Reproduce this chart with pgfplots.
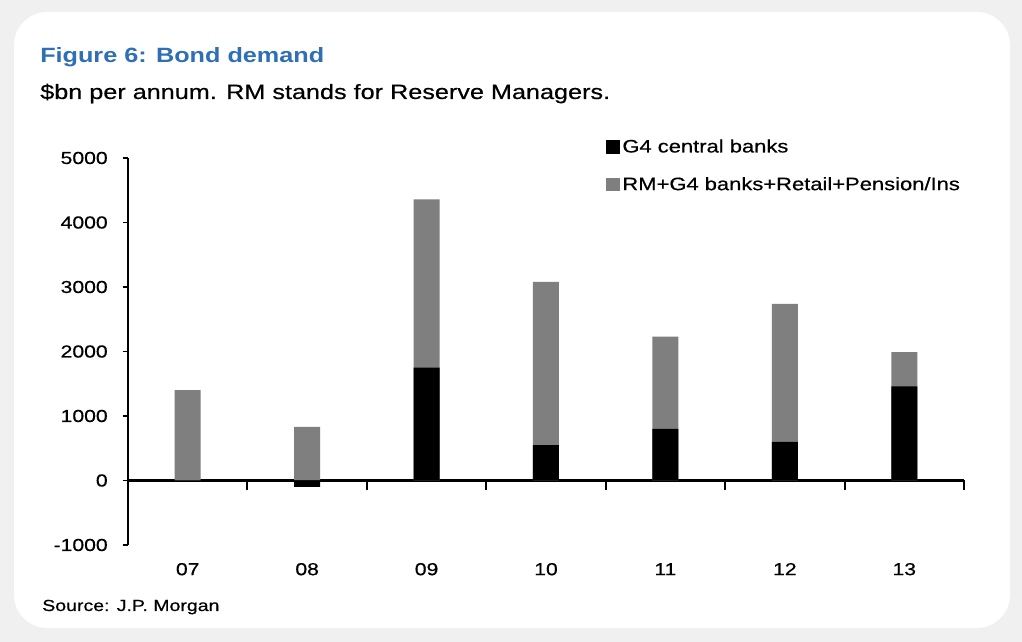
\documentclass[border=0pt]{standalone}
\usepackage{fontspec}
\setmainfont[FakeStretch=1.22, UprightFeatures={FakeBold=0.5}]{Liberation Sans}
\usepackage{pgfplots}
\pgfplotsset{compat=1.18}
\definecolor{barGray}{HTML}{7F7F7F}
\definecolor{titleBlue}{HTML}{2E6FB5}
\begin{document}
\begin{tikzpicture}
\useasboundingbox (0,0) rectangle (766.5pt,481.5pt);
\fill[gray!12] (0,0) rectangle (766.5pt,481.5pt);
\begin{scope}[x=0.75pt,y=-0.75pt,yshift=481.5pt]
 \fill[white, rounded corners=25pt] (14,12) rectangle (1010,628);
 \node[anchor=base west, inner sep=0, font=\fontsize{15.5}{18}\selectfont\bfseries, text=titleBlue] at (40,63) {Figure 6: Bond demand};
 \node[anchor=base west, inner sep=0, font=\fontsize{15.5}{18}\selectfont] at (40,99) {\$bn per annum. RM stands for Reserve Managers.};
 \node[anchor=base west, inner sep=0, font=\fontsize{12}{14}\selectfont] at (42,611) {Source: J.P. Morgan};
\end{scope}
\begin{axis}[
 at={(96pt,72.75pt)}, anchor=south west,
 scale only axis, width=627pt, height=290.25pt,
 xmin=-0.5, xmax=6.5, ymin=-1000, ymax=5000,
 axis x line*=middle, axis y line*=left,
 line width=1.8pt,
 ybar,
 xtick={0,...,6}, xticklabels={07,08,09,10,11,12,13},
 minor xtick={0.5,1.5,...,6.5},
 ytick={-1000,0,...,5000},
 tick align=outside,
 major tick length=4pt, minor tick length=7.5pt,
 tick style={line width=1.4pt, black},
 every major x tick/.append style={draw=none},
 /pgf/number format/assume math mode=true,
 /pgf/number format/1000 sep={},
 yticklabel style={font=\fontsize{13}{15}\selectfont, xshift=-7pt},
 xticklabel style={font=\fontsize{13}{15}\selectfont, anchor=base, yshift=-67pt},
 reverse legend,
 legend style={at={(0.57,1.058)}, anchor=north west, draw=none, fill=none,
   font=\fontsize{13.5}{16}\selectfont, row sep=13pt, inner sep=0pt,
   nodes={inner sep=2pt}},
 legend cell align=left,
 legend image code/.code={\fill[#1,draw=none] (0pt,-5pt) rectangle (10.5pt,5pt);},
]
\addplot[fill=barGray, draw=none, bar width=19.5pt, bar shift=0pt]
 coordinates {(0,1400) (1,830) (2,4360) (3,3080) (4,2230) (5,2740) (6,1990)};
\addlegendentry{RM+G4 banks+Retail+Pension/Ins}
\addplot[fill=black, draw=none, bar width=19.5pt, bar shift=0pt]
 coordinates {(0,0) (1,-100) (2,1750) (3,550) (4,800) (5,600) (6,1460)};
\addlegendentry{G4 central banks}
\end{axis}
\end{tikzpicture}
\end{document}
